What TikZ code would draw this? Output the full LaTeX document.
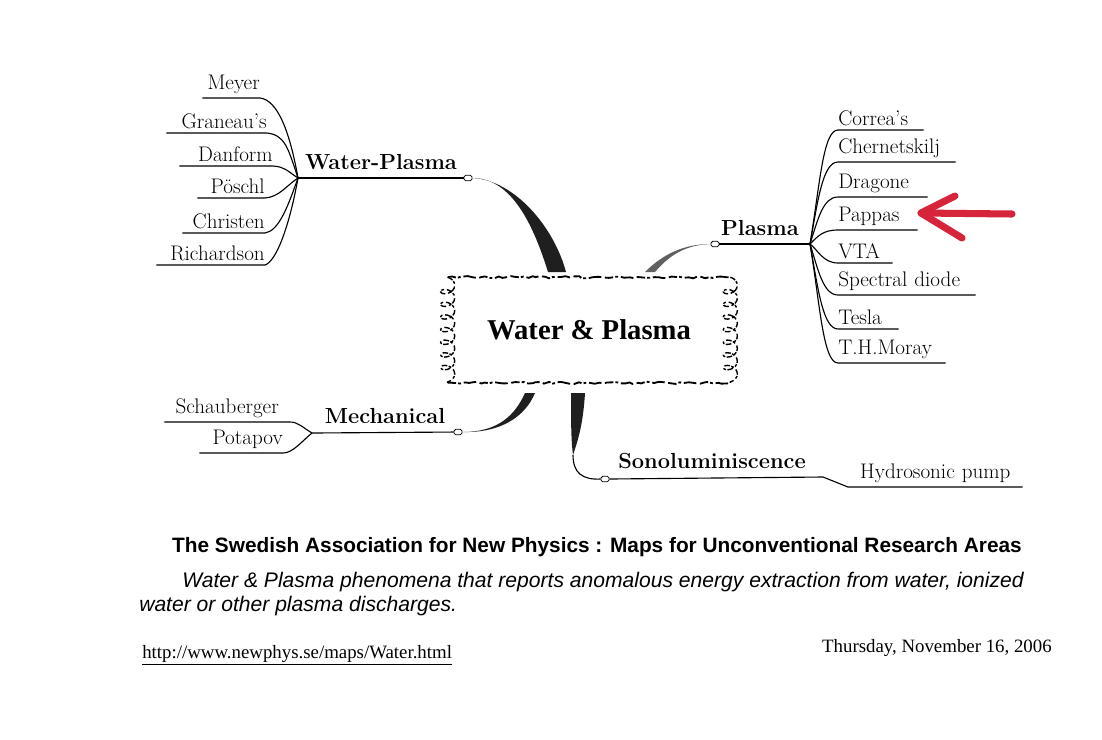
\documentclass[tikz,border=0pt]{standalone}
\usepackage{fontspec}
\newfontfamily\arialfont{Liberation Sans}
\newfontfamily\timesfont{Liberation Serif}
\usepackage{xcolor}
\usepackage{tikz}
\usetikzlibrary{calc,decorations.pathmorphing}

\definecolor{markred}{RGB}{214,36,58}

\tikzset{
	leaf/.style={font=\fontsize{15}{17}\selectfont, inner xsep=0pt, inner ysep=3pt},
	leafL/.style={leaf, anchor=south east, align=right},
	leafR/.style={leaf, anchor=south west, align=left},
	branch/.style={font=\bfseries\fontsize{15.5}{17}\selectfont, inner sep=0pt},
	knob/.style={draw, fill=white, rounded corners=1.2pt, minimum width=0.2cm, minimum height=0.14cm, inner sep=0pt, line width=0.6pt},
	twig/.style={line width=0.8pt},
	stem/.style={fill=black!88},
	ornament/.style={line width=1.3pt, dash pattern=on 6pt off 1.5pt on 2pt off 2pt on 9pt off 2.5pt, decorate, decoration={random steps, segment length=3pt, amplitude=0.8pt}},
	swirl/.style={line width=1pt, dash pattern=on 4pt off 1pt on 2pt off 2pt, decorate, decoration={coil, aspect=0.7, amplitude=5pt, segment length=9pt}},
	redmark/.style={markred, line width=5pt, line cap=round, line join=round},
	caption/.style={inner sep=0pt}
}

\begin{document}
\begin{tikzpicture}[x=0.025cm, y=-0.025cm]
	\fill[white] (0,0) rectangle (1102,739);
	\useasboundingbox (0,0) rectangle (1102,739);
	
	% centre
	\node[minimum width=7.05cm, minimum height=2.625cm, inner sep=0pt] (core) at (589,330) {\timesfont\bfseries\fontsize{20.4}{22}\selectfont Water \& Plasma};
	\draw[ornament] (core.north west) -- (core.north east);
	\draw[ornament] (core.south west) -- (core.south east);
	\draw[swirl] (core.north west) -- (core.south west);
	\draw[swirl] (core.north east) -- (core.south east);
	
	\coordinate (wpfootL) at (548,272);
	\coordinate (wpfootR) at (566,272);
	\coordinate (plfootL) at (645,272);
	\coordinate (plfootR) at (655,272);
	\coordinate (mechfootL) at (525,393);
	\coordinate (mechfootR) at (535,393);
	\coordinate (sonofootL) at (571,393);
	\coordinate (sonofootR) at (585,393);
	\coordinate (sonobend) at (573,455);
	
	% water-plasma
	\coordinate (wphub) at (298,178);
	\node[knob] (wpknob) at (468,178) {};
	\node[branch] (wp) at (381,162) {Water-Plasma};
	\draw[twig] (wphub) -- (wpknob);
	\fill[stem] (wpknob.east) .. controls +(40,0) and +(-14,-45) .. (wpfootL) -- (wpfootR) .. controls +(-12,-45) and +(42,2) .. (wpknob.east) -- cycle;
	
	\node[leafL, text width=1.425cm] (meyer) at (260,98) {Meyer};
	\node[leafL, text width=2.5cm] (graneau) at (267,133) {Graneau's};
	\node[leafL, text width=2.325cm] (danform) at (273,166) {Danform};
	\node[leafL, text width=1.675cm] (poschl) at (265,198) {Pöschl};
	\node[leafL, text width=2.05cm] (christen) at (265,233) {Christen};
	\node[leafL, text width=2.7cm] (richardson) at (265,265) {Richardson};
	
	\draw[twig] (meyer.south west) -- (meyer.south east) .. controls +(18,2) and +(-8,-45) .. (wphub);
	\draw[twig] (graneau.south west) -- (graneau.south east) .. controls +(18,2) and +(-10,-30) .. (wphub);
	\draw[twig] (danform.south west) -- (danform.south east) .. controls +(12,1) and +(-12,-8) .. (wphub);
	\draw[twig] (poschl.south west) -- (poschl.south east) .. controls +(14,-1) and +(-12,8) .. (wphub);
	\draw[twig] (christen.south west) -- (christen.south east) .. controls +(14,-2) and +(-10,28) .. (wphub);
	\draw[twig] (richardson.south west) -- (richardson.south east) .. controls +(12,-4) and +(-8,45) .. (wphub);
	
	% plasma
	\coordinate (phub) at (810,244);
	\node[knob] (plknob) at (715,244) {};
	\node[branch] (pl) at (760,228) {Plasma};
	\draw[twig] (plknob) -- (phub);
	\fill[stem, black!62] (plknob.west) .. controls +(-30,0) and +(15,-15) .. (plfootL) -- (plfootR) .. controls +(12,-14) and +(-28,1) .. (plknob.west) -- cycle;
	
	\node[leafR, text width=2.125cm] (correa) at (838,130) {Correa's};
	\node[leafR, text width=2.925cm] (chernetskilj) at (838,162) {Chernetskilj};
	\node[leafR, text width=2.225cm] (dragone) at (838,197) {Dragone};
	\node[leafR, text width=1.975cm] (pappas) at (838,230) {Pappas};
	\node[leafR, text width=1.35cm] (vta) at (838,263) {VTA};
	\node[leafR, text width=3.425cm] (spectral) at (838,295) {Spectral diode};
	\node[leafR, text width=1.5cm] (tesla) at (838,329) {Tesla};
	\node[leafR, text width=2.675cm] (moray) at (838,363) {T.H.Moray};
	
	\draw[twig] (phub) .. controls +(10,-60) and +(-15,0) .. (correa.south west) -- (correa.south east);
	\draw[twig] (phub) .. controls +(8,-45) and +(-15,0) .. (chernetskilj.south west) -- (chernetskilj.south east);
	\draw[twig] (phub) .. controls +(8,-25) and +(-15,0) .. (dragone.south west) -- (dragone.south east);
	\draw[twig] (phub) .. controls +(8,-8) and +(-15,0) .. (pappas.south west) -- (pappas.south east);
	\draw[twig] (phub) .. controls +(8,6) and +(-15,0) .. (vta.south west) -- (vta.south east);
	\draw[twig] (phub) .. controls +(8,25) and +(-15,0) .. (spectral.south west) -- (spectral.south east);
	\draw[twig] (phub) .. controls +(8,45) and +(-15,0) .. (tesla.south west) -- (tesla.south east);
	\draw[twig] (phub) .. controls +(10,60) and +(-15,0) .. (moray.south west) -- (moray.south east);
	
	% red arrow at Pappas
	\coordinate (arrowtail) at (1012,214);
	\coordinate (arrowtip) at (921,213);
	\coordinate (barbup) at (955,196);
	\coordinate (barbdown) at (962,238);
	\draw[redmark] (arrowtail) -- (arrowtip);
	\draw[redmark] (barbup) -- (arrowtip) -- (barbdown);
	
	% mechanical
	\coordinate (mechhub) at (312,433);
	\node[knob] (mechknob) at (458,432) {};
	\node[branch] (mech) at (385,416) {Mechanical};
	\draw[twig] (mechhub) -- (mechknob);
	\fill[stem] (mechknob.east) .. controls +(38,1) and +(-10,24) .. (mechfootR) -- (mechfootL) .. controls +(-10,22) and +(36,0) .. (mechknob.east) -- cycle;
	
	\node[leafL, align=center, text width=3.125cm] (schauberger) at (290,422) {Schauberger};
	\node[leafL, text width=2.075cm] (potapov) at (283,453) {Potapov};
	\draw[twig] (schauberger.south west) -- (schauberger.south east) .. controls +(8,0) and +(-10,-6) .. (mechhub);
	\draw[twig] (potapov.south west) -- (potapov.south east) .. controls +(10,0) and +(-10,8) .. (mechhub);
	
	% sonoluminiscence
	\node[knob] (sonoknob) at (605,479) {};
	\node[branch] (sono) at (712,461) {Sonoluminiscence};
	\coordinate (sonohub) at (823,477);
	\fill[stem] (sonofootL) -- (sonofootR) .. controls +(-2,32) and +(5,-15) .. (sonobend) .. controls +(-2,-15) and +(0,27) .. (sonofootL) -- cycle;
	\draw[twig] (sonobend) .. controls +(0,18) and +(-18,1) .. (sonoknob.west);
	\node[leaf, anchor=south west, align=center, text width=4.35cm] (hydro) at (848,487) {Hydrosonic pump};
	\draw[twig] (sonoknob.east) -- (sonohub) -- (hydro.south west) -- (hydro.south east);
	
	% footer
	\node[caption] (title) at (597,547) {\arialfont\bfseries\fontsize{14.8}{17}\selectfont The Swedish Association for New Physics : Maps for Unconventional Research Areas};
	\node[caption, anchor=west] (blurb) at (182,582) {\arialfont\itshape\fontsize{15}{17}\selectfont Water \& Plasma phenomena that reports anomalous energy extraction from water, ionized};
	\node[caption, anchor=west] (blurbtail) at (139,606) {\arialfont\itshape\fontsize{15}{17}\selectfont water or other plasma discharges.};
	\node[caption, anchor=west] (url) at (142,655) {\timesfont\fontsize{13.4}{15}\selectfont\underline{http://www.newphys.se/maps/Water.html}};
	\node[caption, anchor=east] (date) at (1052,648) {\timesfont\fontsize{13.4}{15}\selectfont Thursday, November 16, 2006};
\end{tikzpicture}
\end{document}
